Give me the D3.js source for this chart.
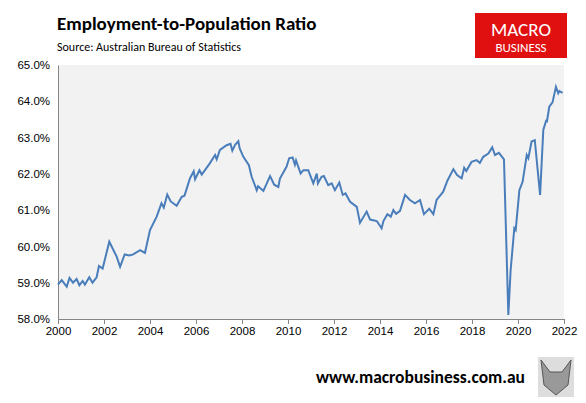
<!DOCTYPE html>
<html><head><meta charset="utf-8">
<script src="https://cdn.jsdelivr.net/npm/d3@7"></script>
<style>body{margin:0;background:#fff}svg{font-family:Calibri,"Liberation Sans",Arial,sans-serif}</style>
</head><body><svg id="c" width="586" height="403"></svg>
<script>
const dates=[2000.0,2000.16,2000.38,2000.5,2000.65,2000.81,2000.93,2001.07,2001.17,2001.36,2001.5,2001.68,2001.78,2001.94,2002.23,2002.55,2002.7,2002.9,2003.1,2003.27,2003.57,2003.78,2004.0,2004.29,2004.5,2004.6,2004.75,2004.9,2005.16,2005.38,2005.5,2005.74,2005.9,2005.96,2006.15,2006.25,2006.6,2006.83,2006.9,2007.04,2007.33,2007.5,2007.58,2007.7,2007.84,2007.9,2008.06,2008.3,2008.42,2008.64,2008.7,2008.93,2009.22,2009.4,2009.58,2009.65,2009.94,2010.05,2010.2,2010.3,2010.35,2010.55,2010.67,2010.88,2011.1,2011.25,2011.3,2011.46,2011.56,2011.75,2011.9,2012.04,2012.23,2012.38,2012.5,2012.7,2012.99,2013.13,2013.42,2013.57,2013.86,2014.07,2014.15,2014.32,2014.47,2014.58,2014.7,2014.87,2015.09,2015.3,2015.52,2015.74,2015.91,2016.14,2016.32,2016.46,2016.75,2016.93,2017.19,2017.35,2017.55,2017.66,2017.75,2017.98,2018.2,2018.34,2018.49,2018.71,2018.88,2019.0,2019.17,2019.39,2019.58,2019.68,2019.84,2019.9,2020.06,2020.2,2020.38,2020.45,2020.59,2020.73,2020.96,2021.1,2021.22,2021.26,2021.36,2021.5,2021.65,2021.75,2021.8,2021.94];
const ratio=[58.95,59.07,58.89,59.13,59.0,59.1,58.93,59.05,58.95,59.15,59.0,59.15,59.46,59.39,60.13,59.72,59.44,59.78,59.75,59.78,59.9,59.82,60.45,60.82,61.19,61.07,61.43,61.24,61.12,61.37,61.4,61.88,62.07,61.85,62.1,61.98,62.29,62.52,62.4,62.66,62.79,62.83,62.64,62.8,62.9,62.7,62.47,62.24,61.92,61.55,61.66,61.53,61.94,61.7,61.64,61.87,62.2,62.43,62.45,62.25,62.37,62.01,62.1,62.1,61.74,62.01,61.74,61.92,61.94,61.69,61.74,61.55,61.76,61.42,61.46,61.23,61.09,60.65,60.96,60.74,60.7,60.5,60.7,60.89,60.82,61.0,60.9,60.98,61.42,61.28,61.19,61.28,60.89,61.04,60.89,61.28,61.51,61.81,62.13,61.97,61.88,62.17,62.08,62.33,62.38,62.3,62.47,62.56,62.73,62.52,62.58,62.4,58.11,59.35,60.5,60.45,61.55,61.78,62.52,62.43,62.89,62.93,61.42,63.21,63.46,63.45,63.85,63.97,64.4,64.22,64.28,64.23];
const yTicks=[58,59,60,61,62,63,64,65];
const xTicks=[2000,2002,2004,2006,2008,2010,2012,2014,2016,2018,2020,2022];
const svg=d3.select("#c");
const L=58,R=564,T=65,B=319;
const x=d3.scaleLinear().domain([2000,2022]).range([L,R]);
const y=d3.scaleLinear().domain([58,65]).range([B,T]);
svg.append("rect").attr("x",L).attr("y",T).attr("width",R-L).attr("height",B-T).attr("fill","#f2f2f2");
const ya=svg.append("g").attr("transform",`translate(${L},0)`).call(d3.axisLeft(y).tickValues(yTicks).tickSize(0).tickPadding(8).tickFormat(d=>d.toFixed(1)+"%"));
const xa=svg.append("g").attr("transform",`translate(0,${B})`).call(d3.axisBottom(x).tickValues(xTicks).tickSize(5).tickPadding(3).tickFormat(d3.format("d")));
[ya,xa].forEach(a=>{a.selectAll("path,line").attr("stroke","#868686");a.selectAll("text").attr("fill","#000").style("font-size","11.5px");});
svg.append("path").datum(dates.map((d,i)=>[d,ratio[i]])).attr("fill","none").attr("stroke","#4a7ebb").attr("stroke-width",2)
 .attr("d",d3.line().x(d=>x(d[0])).y(d=>y(d[1])));
svg.append("text").attr("x",57).attr("y",30).text("Employment-to-Population Ratio").style("font-size","19px").style("font-weight","bold");
svg.append("text").attr("x",57).attr("y",51).text("Source: Australian Bureau of Statistics").style("font-size","12px");
svg.append("rect").attr("x",475).attr("y",13).attr("width",92).attr("height",45).attr("fill","#e01010");
svg.append("text").attr("x",521).attr("y",36).attr("text-anchor","middle").attr("fill","#fff").style("font-size","19px").text("MACRO");
svg.append("text").attr("x",521).attr("y",52).attr("text-anchor","middle").attr("fill","#fff").style("font-size","13px").text("BUSINESS");
svg.append("text").attr("x",525).attr("y",383).attr("text-anchor","end").text("www.macrobusiness.com.au").style("font-size","17.5px").style("font-weight","bold");
const w=svg.append("g");
w.append("rect").attr("x",538).attr("y",357).attr("width",36).attr("height",40).attr("fill","#ddd");
w.append("path").attr("d","M541,360 L550,372 L562,372 L571,360 L568,385 L556,395 L544,385 Z").attr("fill","#999").attr("stroke","#555");
</script></body></html>
